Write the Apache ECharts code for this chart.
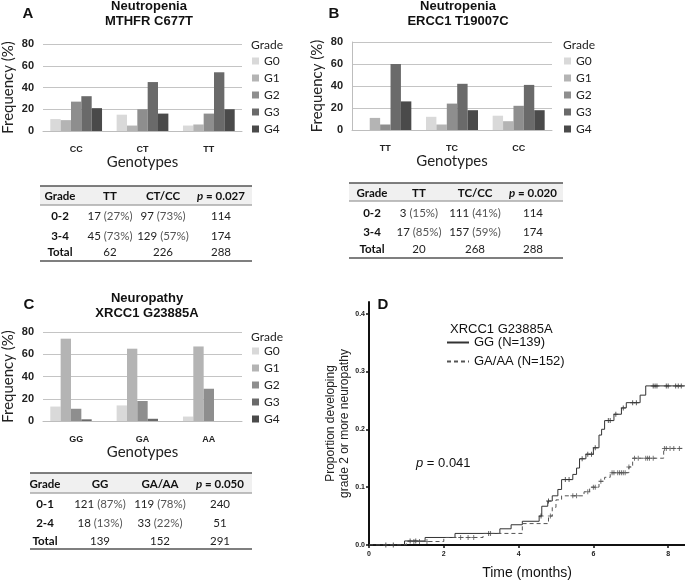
<!DOCTYPE html>
<html><head><meta charset="utf-8">
<script src="https://cdn.jsdelivr.net/npm/echarts@6/dist/echarts.min.js"></script>
<style>html,body{margin:0;padding:0;background:#fff}#c{width:685px;height:581px}</style>
</head><body><div id="c"></div>
<script>
// ---------- DATA ----------
const grades = ['G0', 'G1', 'G2', 'G3', 'G4'];
const catsA = ['CC', 'CT', 'TT'];
const valsA = [[11, 15, 5], [10, 5, 6], [27, 20, 16], [32, 45, 54], [21, 16, 20]];
const catsB = ['TT', 'TC', 'CC'];
const valsB = [[0, 12, 13], [11, 5, 8], [5, 24, 22], [60, 42, 41], [26, 18, 18]];
const catsC = ['GG', 'GA', 'AA'];
const valsC = [[13, 14, 4], [74, 65, 67], [11, 18, 29], [1.5, 2, 0], [0, 0, 0]];
const barTicks = [0, 20, 40, 60, 80];

const tableAHeader = ['Grade', 'TT', 'CT/CC', 'p = 0.027'];
const tableARows = [['0-2', '17 (27%)', '97 (73%)', '114'], ['3-4', '45 (73%)', '129 (57%)', '174'], ['Total', '62', '226', '288']];
const tableBHeader = ['Grade', 'TT', 'TC/CC', 'p = 0.020'];
const tableBRows = [['0-2', '3 (15%)', '111 (41%)', '114'], ['3-4', '17 (85%)', '157 (59%)', '174'], ['Total', '20', '268', '288']];
const tableCHeader = ['Grade', 'GG', 'GA/AA', 'p = 0.050'];
const tableCRows = [['0-1', '121 (87%)', '119 (78%)', '240'], ['2-4', '18 (13%)', '33 (22%)', '51'], ['Total', '139', '152', '291']];

const kmNames = ['GG (N=139)', 'GA/AA (N=152)'];
const kmTimeGG = [0, 0.95, 1.5, 2.3, 3.5, 3.8, 4.1, 4.55, 4.62, 4.78, 4.9, 5.05, 5.15, 5.45, 5.55, 5.63, 5.8, 6.0, 6.15, 6.22, 6.3, 6.55, 6.75, 6.88, 7.25, 7.4, 8.45];
const kmPropGG = [0, 0.007, 0.013, 0.020, 0.028, 0.035, 0.041, 0.050, 0.067, 0.076, 0.085, 0.096, 0.113, 0.122, 0.133, 0.149, 0.157, 0.168, 0.190, 0.200, 0.215, 0.226, 0.237, 0.246, 0.259, 0.275, 0.275];
const kmTimeGA = [0, 1.0, 2.0, 3.05, 4.1, 4.8, 4.9, 5.0, 5.15, 5.75, 5.9, 6.15, 6.3, 6.45, 6.95, 7.05, 7.88, 8.45];
const kmPropGA = [0, 0.006, 0.013, 0.020, 0.037, 0.050, 0.065, 0.078, 0.085, 0.092, 0.100, 0.110, 0.117, 0.125, 0.135, 0.150, 0.167, 0.167];
const censorGG = [0.45, 0.65, 1.1, 1.25, 3.2, 4.6, 4.8, 5.25, 5.35, 5.7, 5.85, 5.95, 6.05, 6.4, 6.45, 6.6, 6.8, 7.05, 7.15, 7.6, 7.65, 7.7, 7.95, 8.0, 8.2, 8.27, 8.35];
const censorGA = [1.2, 1.35, 1.55, 2.45, 2.65, 2.8, 3.25, 4.85, 5.45, 5.55, 5.85, 6.0, 6.05, 6.2, 6.5, 6.55, 6.65, 6.7, 6.75, 6.8, 6.85, 6.95, 7.1, 7.2, 7.4, 7.45, 7.5, 7.6, 7.9, 7.95, 8.05, 8.15, 8.3];
const kmXTicks = [0, 2, 4, 6, 8];
const kmYTicks = [0, 0.1, 0.2, 0.3, 0.4];

// ---------- STYLE ----------
const barColors = ['#d9d9d9', '#b4b4b4', '#8e8e8e', '#6a6a6a', '#4a4a4a'];
const SANS = 'Lato, "Noto Sans", sans-serif';
const ARIAL = '"Liberation Sans", Arial, sans-serif';

function stepAt(times, props, t) {
  let p = 0;
  for (let i = 0; i < times.length; i++) if (times[i] <= t) p = props[i];
  return p;
}

function barAxes(gi, cats, showYLine) {
  const x = {
    type: 'category', gridIndex: gi, data: cats,
    axisLine: { lineStyle: { color: '#bdbdbd' } }, axisTick: { show: false },
    axisLabel: { fontFamily: ARIAL, fontWeight: 'bold', fontSize: 9, color: '#222', margin: 14 },
    name: 'Genotypes', nameLocation: 'middle', nameGap: 24,
    nameTextStyle: { fontFamily: SANS, fontSize: 15, color: '#222' }
  };
  const y = {
    type: 'value', gridIndex: gi, min: 0, max: 80, interval: 20,
    axisLine: { show: showYLine, lineStyle: { color: '#bdbdbd' } }, axisTick: { show: false },
    axisLabel: { fontFamily: ARIAL, fontWeight: 'bold', fontSize: 11, color: '#222', margin: 9, customValues: barTicks },
    splitLine: { lineStyle: { color: '#c4c4c4' } },
    name: 'Frequency (%)', nameLocation: 'middle', nameGap: 27, nameRotate: 90,
    nameTextStyle: { fontFamily: SANS, fontSize: 15, color: '#222' }
  };
  return [x, y];
}

const axA = barAxes(0, catsA, false), axB = barAxes(1, catsB, true), axC = barAxes(2, catsC, false);

const series = [];
[[valsA, 0], [valsB, 1], [valsC, 2]].forEach(([vals, gi]) => {
  grades.forEach((g, k) => {
    series.push({
      type: 'bar', name: g, xAxisIndex: gi, yAxisIndex: gi, data: vals[k],
      barGap: '0%', barCategoryGap: '22%', itemStyle: { color: barColors[k] }
    });
  });
});

series.push({
  type: 'line', name: kmNames[0], xAxisIndex: 3, yAxisIndex: 3, step: 'end', symbol: 'none',
  data: kmTimeGG.map((t, i) => [t, kmPropGG[i]]),
  lineStyle: { color: '#333', width: 1 }, itemStyle: { color: '#333' }
});
series.push({
  type: 'line', name: kmNames[1], xAxisIndex: 3, yAxisIndex: 3, step: 'end', symbol: 'none',
  data: kmTimeGA.map((t, i) => [t, kmPropGA[i]]),
  lineStyle: { color: '#555', width: 1, type: [4, 3] }, itemStyle: { color: '#555' }
});
const plusPath = 'path://M2,0H3V2H5V3H3V5H2V3H0V2H2Z';
series.push({
  type: 'scatter', name: 'censor GG', xAxisIndex: 3, yAxisIndex: 3, symbol: plusPath, symbolSize: 5,
  data: censorGG.map(t => [t, stepAt(kmTimeGG, kmPropGG, t)]), itemStyle: { color: '#333' }, silent: true
});
series.push({
  type: 'scatter', name: 'censor GA', xAxisIndex: 3, yAxisIndex: 3, symbol: plusPath, symbolSize: 5,
  data: censorGA.map(t => [t, stepAt(kmTimeGA, kmPropGA, t)]), itemStyle: { color: '#555' }, silent: true
});

// ---------- TEXT / TABLE GRAPHICS ----------
const graphic = [];
function txt(x, y, text, font, opts) {
  graphic.push(Object.assign({
    type: 'text', x: x, y: y,
    style: Object.assign({ text: text, font: font, fill: '#111', textAlign: 'center', textVerticalAlign: 'middle' }, opts || {})
  }));
}
// panel letters and titles
txt(28, 14, 'A', 'bold 15px ' + ARIAL);
txt(334, 14, 'B', 'bold 15px ' + ARIAL);
txt(29, 305, 'C', 'bold 15px ' + ARIAL);
txt(383, 305, 'D', 'bold 15px ' + ARIAL);
txt(149, 6, 'Neutropenia', 'bold 13px ' + ARIAL);
txt(149, 21, 'MTHFR C677T', 'bold 13px ' + ARIAL);
txt(458, 6, 'Neutropenia', 'bold 13px ' + ARIAL);
txt(458, 21, 'ERCC1 T19007C', 'bold 13px ' + ARIAL);
txt(147, 298, 'Neuropathy', 'bold 13px ' + ARIAL);
txt(147, 313, 'XRCC1 G23885A', 'bold 13px ' + ARIAL);
// legend headers
txt(251, 45, 'Grade', '12px ' + SANS, { textAlign: 'left', fill: '#222' });
txt(563, 45, 'Grade', '12px ' + SANS, { textAlign: 'left', fill: '#222' });
txt(251, 337, 'Grade', '12px ' + SANS, { textAlign: 'left', fill: '#222' });
// KM annotations
txt(450, 329, 'XRCC1 G23885A', '13px ' + ARIAL, { textAlign: 'left' });
txt(416, 463, '{i|p} = 0.041', '13px ' + ARIAL, { textAlign: 'left', rich: { i: { font: 'italic 13px ' + ARIAL, fill: '#111' } } });

const tableRich = {
  h: { font: 'bold 11.5px ' + SANS, fill: '#111' },
  hi: { font: 'bold italic 11.5px ' + SANS, fill: '#111' },
  g: { font: 'bold 11.5px ' + SANS, fill: '#111' },
  n: { font: '11.5px ' + SANS, fill: '#222' },
  pc: { font: '11.5px ' + SANS, fill: '#555' }
};
function cellText(s, isHeader, col) {
  if (isHeader) {
    if (s.startsWith('p ')) return '{hi|p}{h|' + s.slice(1) + '}';
    return '{h|' + s + '}';
  }
  if (col === 0) return '{g|' + s + '}';
  const m = s.match(/^(\S+)\s*(\(.*\))?$/);
  if (m && m[2]) return '{n|' + m[1] + '} {pc|' + m[2] + '}';
  return '{n|' + s + '}';
}
function table(x0, x1, yTop, yHead, yHeadLine, rowYs, yBottom, colX, header, rows) {
  graphic.push({ type: 'rect', shape: { x: x0, y: yTop, width: x1 - x0, height: yHeadLine - yTop }, style: { fill: '#f0f0f0' } });
  graphic.push({ type: 'line', shape: { x1: x0, y1: yTop, x2: x1, y2: yTop }, style: { stroke: '#555', lineWidth: 1.5 } });
  graphic.push({ type: 'line', shape: { x1: x0, y1: yHeadLine, x2: x1, y2: yHeadLine }, style: { stroke: '#aaa', lineWidth: 1.5 } });
  graphic.push({ type: 'line', shape: { x1: x0, y1: yBottom, x2: x1, y2: yBottom }, style: { stroke: '#555', lineWidth: 1.5 } });
  header.forEach((h, c) => txt(colX[c], yHead, cellText(h, true, c), '11.5px ' + SANS, { rich: tableRich }));
  rows.forEach((r, ri) => r.forEach((cell, c) => txt(colX[c], rowYs[ri], cellText(cell, false, c), '11.5px ' + SANS, { rich: tableRich })));
}
table(40, 252, 186, 196, 205, [216, 236, 252], 261, [60, 110, 163, 221], tableAHeader, tableARows);
table(349, 563, 183, 193, 201, [213, 232, 249], 258, [372, 419, 475, 533], tableBHeader, tableBRows);
table(30, 252, 473, 484, 493, [504, 523, 541], 549, [45, 100, 160, 220], tableCHeader, tableCRows);

// ---------- OPTION ----------
const legendBar = (left, top) => ({
  data: grades, orient: 'vertical', left: left, top: top, itemWidth: 7, itemHeight: 7, itemGap: 5,
  icon: 'rect', padding: 0, selectedMode: false,
  textStyle: { fontFamily: SANS, fontSize: 12, color: '#222', lineHeight: 12 }
});

const option = {
  animation: false,
  backgroundColor: '#fff',
  grid: [
    { left: 42, top: 44, width: 200, height: 87 },
    { left: 352, top: 42, width: 200, height: 88 },
    { left: 42, top: 332, width: 200, height: 89 },
    { left: 369, top: 302, right: 0, height: 244 }
  ],
  xAxis: [axA[0], axB[0], axC[0], {
    type: 'value', gridIndex: 3, min: 0, max: 8.45,
    axisLine: { lineStyle: { color: '#111', width: 2 } },
    axisTick: { length: 3, lineStyle: { color: '#111', width: 1.5 }, customValues: kmXTicks },
    axisLabel: { fontFamily: ARIAL, fontWeight: 'bold', fontSize: 7, color: '#222', margin: 6, customValues: kmXTicks },
    splitLine: { show: false },
    name: 'Time (months)', nameLocation: 'middle', nameGap: 21,
    nameTextStyle: { fontFamily: ARIAL, fontSize: 14, color: '#111' }
  }],
  yAxis: [axA[1], axB[1], axC[1], {
    type: 'value', gridIndex: 3, min: 0, max: 0.42,
    axisLine: { lineStyle: { color: '#111', width: 2 } },
    axisTick: { length: 3, lineStyle: { color: '#111', width: 1.5 }, customValues: kmYTicks },
    axisLabel: { fontFamily: ARIAL, fontWeight: 'bold', fontSize: 7, color: '#222', margin: 4, customValues: kmYTicks, formatter: v => v.toFixed(1) },
    splitLine: { show: false },
    name: 'Proportion developing\ngrade 2 or more neuropathy', nameLocation: 'middle', nameGap: 14, nameRotate: 90,
    nameTextStyle: { fontFamily: ARIAL, fontSize: 12, color: '#222', lineHeight: 14 }
  }],
  legend: [
    legendBar(252, 55),
    legendBar(564, 55),
    legendBar(252, 345),
    {
      data: kmNames, orient: 'vertical', left: 446, top: 336, itemWidth: 22, itemHeight: 8, itemGap: 6,
      padding: 0, selectedMode: false, itemStyle: { opacity: 0 },
      textStyle: { fontFamily: ARIAL, fontSize: 13, color: '#111' }
    }
  ],
  graphic: graphic,
  series: series
};

const chart = echarts.init(document.getElementById('c'), null, { renderer: 'canvas' });
chart.setOption(option);
</script>
</body></html>
